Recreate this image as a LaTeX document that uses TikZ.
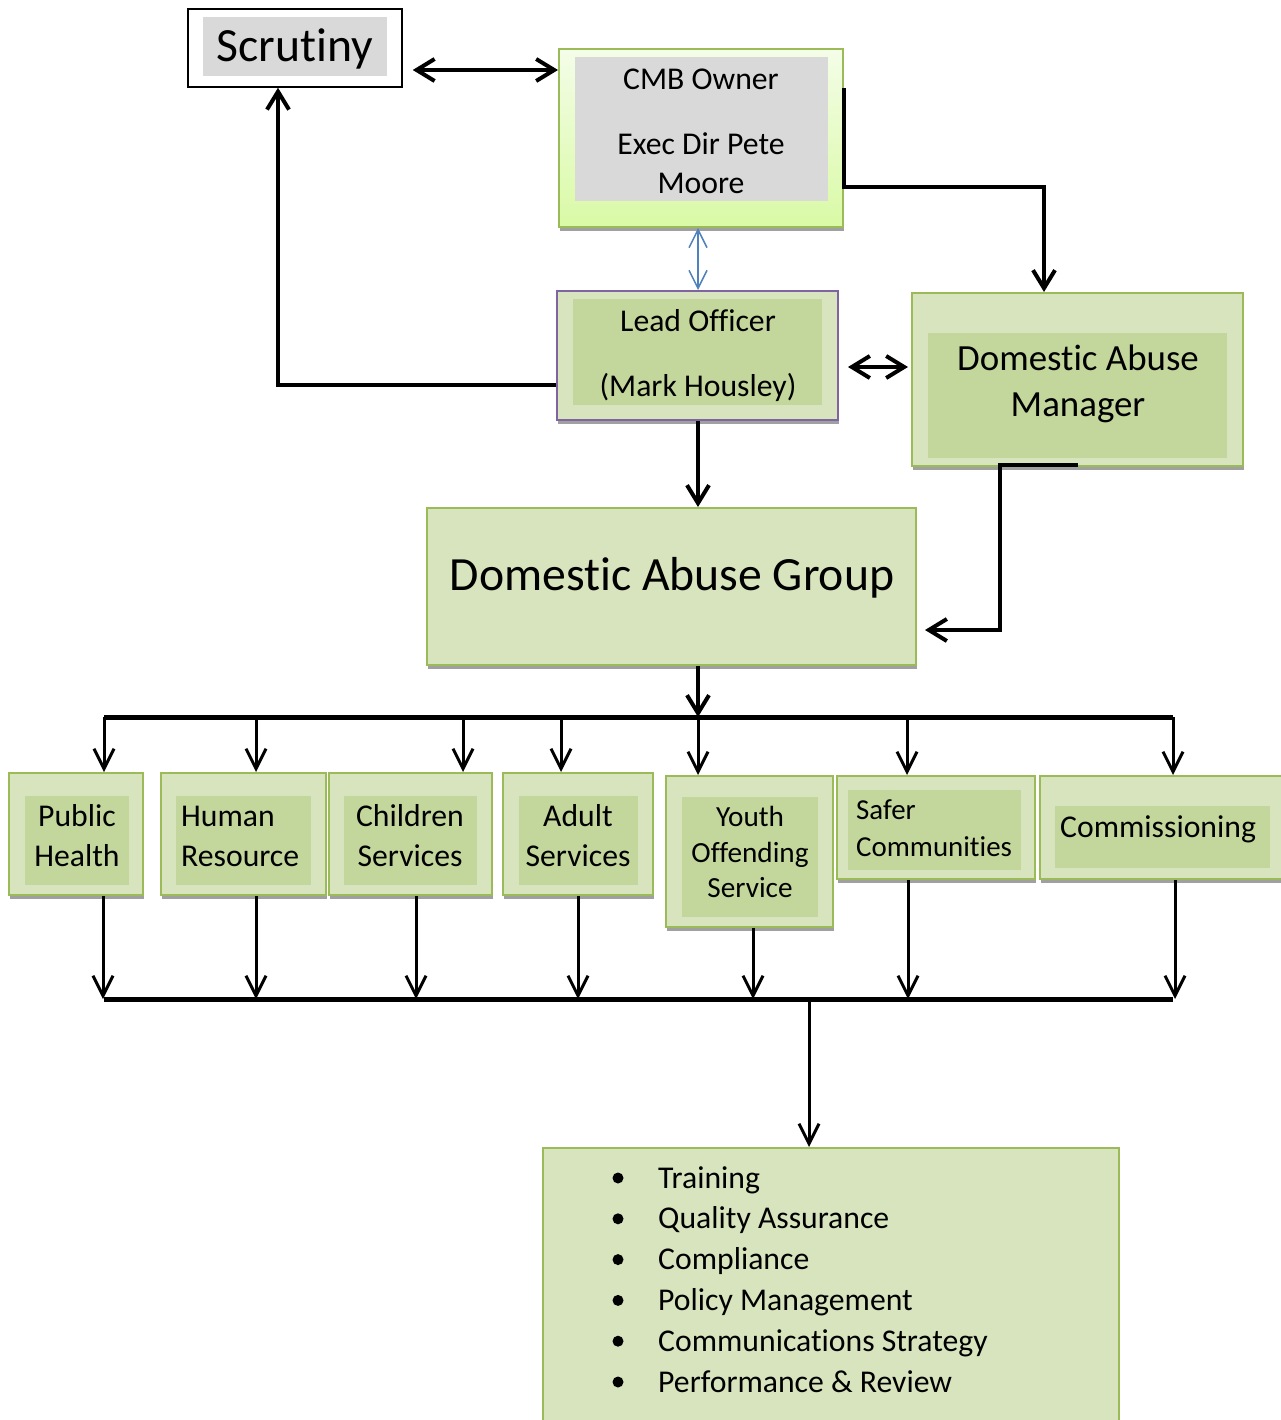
\documentclass[tikz,border=0pt]{standalone}
\usepackage{fontspec}
\setmainfont{Carlito}[Ligatures={NoCommon,NoDiscretionary,NoRare}]
\usetikzlibrary{arrows.meta,shadows}

\definecolor{olivebd}{HTML}{9BBB59}
\definecolor{olivelt}{HTML}{D7E4BD}
\definecolor{olivedk}{HTML}{C3D69B}
\definecolor{greybox}{HTML}{D9D9D9}
\definecolor{limetop}{HTML}{F4FDE8}
\definecolor{limebot}{HTML}{D9FAA5}
\definecolor{purplebd}{HTML}{8064A2}
\definecolor{bluearr}{HTML}{4F81BD}
\definecolor{shadowgrey}{HTML}{A0A0A0}

\tikzset{
  outerbox/.style={draw=olivebd, fill=olivelt, line width=2pt, inner sep=0pt,
    drop shadow={shadow xshift=1pt, shadow yshift=-4pt, fill=shadowgrey, opacity=1}},
  innerbox/.style={fill=olivedk, inner sep=0pt},
  greyin/.style={fill=greybox, inner sep=0pt},
  txt/.style={align=center, inner sep=0pt, font=\fontsize{31.7}{40}\selectfont},
  bigtxt/.style={inner sep=0pt, font=\fontsize{47.7}{57}\selectfont},
  link/.style={line width=4pt, -{Straight Barb[length=18pt,width=22pt]}},
  linkboth/.style={line width=4pt, {Straight Barb[length=18pt,width=22pt]}-{Straight Barb[length=18pt,width=22pt]}},
  thinlink/.style={bluearr, line width=1.5pt, {Straight Barb[length=18pt,width=18pt]}-{Straight Barb[length=18pt,width=18pt]}},
  bus/.style={line width=5pt},
  drop/.style={line width=3pt, -{Straight Barb[length=20pt,width=20pt]}}
}

\begin{document}
\begin{tikzpicture}[x=1pt, y=-1pt]
  \fill[white] (0,0) rectangle (1280,1420);
  \useasboundingbox (0,0) rectangle (1280,1420);

  \node[draw, line width=1.5pt, minimum width=214pt, minimum height=78pt] (scrut) at (295,48) {};
  \node[greyin, minimum width=184pt, minimum height=59pt] (scrutin) at (295,46.5) {};
  \node[bigtxt, anchor=base] (scruttxt) at (295,62) {Scrutiny};

  \node[outerbox, top color=limetop, bottom color=limebot, minimum width=284pt, minimum height=178pt] (cmb) at (701,138) {};
  \node[greyin, minimum width=253pt, minimum height=144pt] (cmbin) at (701.5,129) {};
  \node[txt, font=\fontsize{31.7}{39}\selectfont] (cmbtxt) at (701,131) {CMB Owner\\[26pt]Exec Dir Pete\\Moore};

  \node[outerbox, draw=purplebd, minimum width=281pt, minimum height=129pt] (lead) at (697.5,355.5) {};
  \node[innerbox, minimum width=249pt, minimum height=106pt] (leadin) at (697.5,352) {};
  \node[txt, font=\fontsize{31.7}{39}\selectfont] (leadtxt) at (698,356) {Lead Officer\\[26pt](Mark Housley)};

  \node[outerbox, minimum width=331pt, minimum height=173pt] (dam) at (1077.5,379.5) {};
  \node[innerbox, minimum width=299pt, minimum height=125pt] (damin) at (1077.5,395.5) {};
  \node[txt, font=\fontsize{36.9}{46}\selectfont] (damtxt) at (1078,384) {Domestic Abuse\\Manager};

  \node[outerbox, minimum width=489pt, minimum height=157pt] (dag) at (671.5,586.5) {};
  \node[bigtxt, anchor=base] (dagtxt) at (672,590) {Domestic Abuse Group};

  \node[outerbox, minimum width=134pt, minimum height=122pt] (health) at (76,834) {};
  \node[innerbox, minimum width=104pt, minimum height=89pt] (healthin) at (77,840.5) {};
  \node[txt] (healthtxt) at (77,836) {Public\\Health};

  \node[outerbox, minimum width=165pt, minimum height=122pt] (human) at (243.5,834) {};
  \node[innerbox, minimum width=135pt, minimum height=89pt] (humanin) at (243.5,840.5) {};
  \node[txt, align=left, anchor=west] (humantxt) at (181,836) {Human\\Resource};

  \node[outerbox, minimum width=163pt, minimum height=122pt] (child) at (410.5,834) {};
  \node[innerbox, minimum width=133pt, minimum height=89pt] (childin) at (410.5,840.5) {};
  \node[txt] (childtxt) at (410,836) {Children\\Services};

  \node[outerbox, minimum width=150pt, minimum height=122pt] (adult) at (578,834) {};
  \node[innerbox, minimum width=119pt, minimum height=89pt] (adultin) at (578.5,840.5) {};
  \node[txt] (adulttxt) at (578,836) {Adult\\Services};

  \node[outerbox, minimum width=167pt, minimum height=151pt] (youth) at (749.5,851.5) {};
  \node[innerbox, minimum width=136pt, minimum height=120pt] (youthin) at (750,857) {};
  \node[txt, font=\fontsize{29.2}{35.5}\selectfont] (youthtxt) at (750,852) {Youth\\Offending\\Service};

  \node[outerbox, minimum width=198pt, minimum height=103pt] (safer) at (936,827.5) {};
  \node[innerbox, minimum width=173pt, minimum height=80pt] (saferin) at (934.5,830) {};
  \node[txt, align=left, anchor=west, font=\fontsize{28.9}{37}\selectfont] (safertxt) at (856,828) {Safer\\Communities};

  \node[outerbox, minimum width=244pt, minimum height=103pt] (comm) at (1162,827.5) {};
  \node[innerbox, minimum width=215pt, minimum height=62pt] (commin) at (1162.5,837) {};
  \node[txt, anchor=base west] (commtxt) at (1060,837) {Commissioning};

  \node[outerbox, minimum width=576pt, minimum height=282pt] (list) at (831,1289) {};
  \foreach \t [count=\i from 0] in {Training, Quality Assurance, Compliance,
      Policy Management, Communications Strategy, Performance \& Review} {
    \node[circle, fill, inner sep=0pt, minimum size=11pt] (dot\i) at (618,1178+40.8*\i) {};
    \node[txt, anchor=base west] (item\i) at (658,1188+40.8*\i) {\t};
  }

  \coordinate (busL) at (104,717);
  \coordinate (busR) at (1173,717);
  \coordinate (lowL) at (104,999);
  \coordinate (lowR) at (1173,999);

  \draw[linkboth, shorten <=10pt] (scrut.east |- 0,70) -- (cmb.west |- 0,70);
  \draw[link] (lead.west |- 0,385) -| (scrut.south -| 278,0);
  \draw[link] (cmb.east |- 0,88) -- (cmb.east |- 0,187) -| (dam.north -| 1044,0);
  \draw[thinlink] (cmb.south -| 698,0) -- (lead.north -| 698,0);
  \draw[linkboth, shorten <=9pt, shorten >=3pt] (lead.east |- 0,367) -- (dam.west |- 0,367);
  \draw[link] (lead.south -| 698,0) -- (dag.north -| 698,0);
  \draw[link, shorten >=8pt] (dam.south -| 1078,0) ++(0,-2) -| (1000,630) -- (dag.east |- 0,630);

  \draw[link] (dag.south -| 698,0) -- (busL -| 698,0);
  \draw[bus] (busL) -- (busR);
  \foreach \x/\b in {104/health, 256/human, 463/child, 561/adult, 698/youth, 907/safer, 1173/comm}
    \draw[drop] (busL -| \x,0) -- (\b.north -| \x,0);

  \foreach \x/\b in {103/health, 256/human, 416/child, 578/adult, 753/youth, 908/safer, 1175/comm}
    \draw[drop] (\b.south -| \x,0) -- (lowL -| \x,0);
  \draw[bus] (lowL) -- (lowR);
  \draw[drop] (lowL -| 809,0) -- (list.north -| 809,0);
\end{tikzpicture}
\end{document}
